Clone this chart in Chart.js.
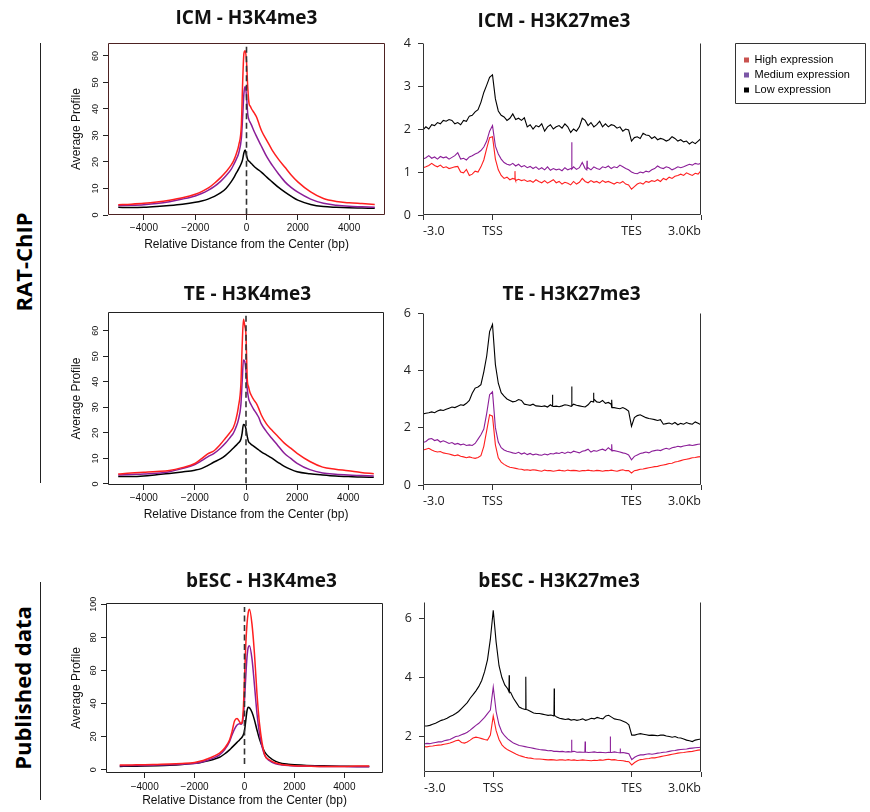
<!DOCTYPE html>
<html>
<head>
<meta charset="utf-8">
<script src="https://cdn.jsdelivr.net/npm/chart.js@4.4.1/dist/chart.umd.min.js"></script>
<style>
html, body { margin: 0; padding: 0; background: #fff; }
body { width: 870px; height: 812px; position: relative; overflow: hidden; }
canvas { position: absolute; }
.side { position: absolute; font: bold 22px 'Open Sans', sans-serif; color: #000; white-space: nowrap;
        transform: translate(-50%, -50%) rotate(-90deg); }
.rule { position: absolute; width: 0; border-left: 1.3px solid #222; }
</style>
</head>
<body>
<div class="side" style="left:23px;top:262px">RAT-ChIP</div>
<div class="rule" style="left:40px;top:43px;height:440px"></div>
<div class="side" style="left:22px;top:688px">Published data</div>
<div class="rule" style="left:40px;top:582px;height:218px"></div>

<canvas id="icmK4"></canvas>
<canvas id="teK4"></canvas>
<canvas id="besK4"></canvas>
<canvas id="icmK27"></canvas>
<canvas id="teK27"></canvas>
<canvas id="besK27"></canvas>
<canvas id="legendBox"></canvas>

<script>
const expression = ['High expression', 'Medium expression', 'Low expression'];
const lineColors = ['#ff1f1f', '#8b1e98', '#000000'];
const legendColors = ['#c9524f', '#7b56a6', '#000000'];

// ---- H3K4me3: average profile around the peak centre (bp)
const distBp = [-5000, -4500, -4000, -3500, -3000, -2500, -2000, -1750, -1500, -1250, -1000, -800, -600,
  -500, -400, -300, -200, -150, -100, -50, 0, 50, 100, 150, 200, 300, 400, 500, 600, 800, 1000,
  1250, 1500, 1750, 2000, 2500, 3000, 3500, 4000, 4500, 5000];
const k4XTicks = [-4000, -2000, 0, 2000, 4000];
const k4YTicks60 = [0, 10, 20, 30, 40, 50, 60];
const k4YTicks100 = [0, 20, 40, 60, 80, 100];

const icmK4High = [3.9, 4.1, 4.4, 4.9, 5.6, 6.5, 7.8, 8.8, 10.1, 12, 14.2, 16.3, 18.8,
  20.5, 23, 26.5, 34, 50, 61, 62, 58, 48, 42, 41, 40, 38.5, 36.8, 34, 31.5, 28, 24.5,
  21, 18, 15, 12.5, 8.7, 6.2, 5.1, 4.6, 4.3, 4.0];
const icmK4Med = [3.6, 3.7, 3.9, 4.3, 5.0, 6.0, 7.2, 8.1, 9.3, 10.8, 12.8, 14.8, 17.2,
  19, 21, 23.5, 29, 37, 46, 48.5, 45, 38, 35.8, 34.8, 33.8, 31.5, 29.5, 27.5, 25.6, 21.8, 18.8,
  15.5, 12.5, 10.3, 8.6, 6.0, 4.4, 3.7, 3.3, 3.1, 2.9];
const icmK4Low = [2.9, 2.8, 2.9, 3.2, 3.6, 4.1, 4.8, 5.3, 6.0, 7.0, 8.4, 10, 12.5,
  14, 15.8, 17.5, 19.5, 21, 23.5, 24.5, 22.5, 20.8, 20.3, 19.8, 19.3, 18.3, 17.5, 16.8, 16, 14.2, 12.5,
  10.4, 8.6, 7, 5.6, 4.0, 3.2, 2.9, 2.7, 2.6, 2.5];
const icmK4Center = [0.3, 63.5];

const teK4High = [3.9, 4.3, 4.6, 4.9, 5.3, 6.4, 8.0, 9.8, 11.8, 13, 15.5, 18, 20.5,
  22, 25, 30, 39, 54, 64.5, 62, 58, 41, 38, 36, 34.8, 33, 31.6, 29.5, 27, 23.5, 21.2,
  18.6, 16, 14, 12, 8.8, 6.6, 5.8, 5.2, 4.5, 4.0];
const teK4Med = [3.5, 3.7, 3.9, 4.2, 4.8, 6.0, 7.6, 9.0, 10.6, 12, 14, 16, 18.5,
  19.8, 22, 25, 31, 40, 48.5, 48, 44, 37, 33.5, 32, 31, 29.2, 27.7, 26, 23.5, 20.5, 18,
  15, 12, 10, 8.1, 5.6, 4.3, 3.8, 3.5, 3.3, 3.1];
const teK4Low = [2.9, 2.9, 3.1, 3.6, 4.1, 4.7, 5.4, 6.0, 7.2, 8.6, 9.8, 11.2, 13,
  14, 15, 16, 17.5, 20, 23.3, 23, 21.5, 18.5, 16.5, 16, 15.5, 14.8, 14, 13.3, 12.6, 11.4, 10.2,
  8.5, 6.9, 5.7, 4.8, 4.0, 3.5, 3.1, 2.9, 2.7, 2.6];
const teK4Center = [0.3, 66];

const besK4High = [2.8, 2.9, 3.0, 3.2, 3.4, 3.8, 4.4, 5.2, 6.5, 8, 10, 13, 18,
  23, 29.5, 31, 29, 28, 28.5, 36, 55, 75, 88, 95, 97, 88, 70, 46, 28, 9.5, 6,
  4, 3.2, 2.7, 2.4, 2.2, 2.0, 2.0, 2.0, 2.3, 2.2];
const besK4Med = [2.4, 2.5, 2.6, 2.8, 3.0, 3.3, 3.8, 4.5, 5.6, 7, 9, 12, 17,
  21, 24.5, 27, 27.8, 27.5, 28, 32, 42, 56, 68, 74, 75, 67, 51, 34, 22, 9, 5.5,
  3.6, 2.9, 2.5, 2.3, 2.1, 2.0, 1.9, 1.9, 1.8, 1.8];
const besK4Low = [2.0, 2.1, 2.2, 2.4, 2.7, 3.2, 3.9, 4.4, 5.2, 6.2, 7.5, 9.5, 12,
  13.5, 15, 16.5, 18, 18.8, 19.6, 21, 23.5, 29.5, 35.5, 37.8, 37.4, 34.7, 30, 24, 18.5, 11, 7.5,
  5, 3.8, 3.3, 3.0, 2.6, 2.4, 2.2, 2.1, 2.0, 2.0];
const besK4Center = [3.4, 98.4];

// ---- H3K27me3: scale-regions profile, bins of 0.125 on a 0..12 axis (-3.0 / TSS / TES / 3.0Kb)
const regionTicks = [0, 3, 9, 12];
const regionLabels = ['-3.0', 'TSS', 'TES', '3.0Kb'];
const binWidth = 0.125;

const icmK27High = [1.1, 1.12, 1.15, 1.2, 1.15, 1.12, 1.16, 1.1,
  1.12, 1.08, 1.1, 1.12, 1.13, 1.0, 0.98, 1.06,
  0.92, 0.95, 1.02, 1.0, 1.12, 1.28, 1.55, 1.8,
  1.82, 1.3, 1.05, 0.92, 0.85, 0.88, 0.82, 0.85,
  0.8, 0.83, 0.8, 0.82, 0.78, 0.8, 0.76, 0.82,
  0.78, 0.75, 0.8, 0.74, 0.78, 0.82, 0.75, 0.78,
  0.72, 0.76, 0.74, 0.7, 0.78, 0.72, 0.76, 0.85,
  0.78, 0.75, 0.8, 0.76, 0.78, 0.74, 0.8, 0.76,
  0.78, 0.75, 0.72, 0.76, 0.74, 0.78, 0.72, 0.7,
  0.6, 0.66, 0.72, 0.75, 0.72, 0.78, 0.76, 0.8,
  0.78, 0.82, 0.78, 0.85, 0.82, 0.88, 0.85, 0.9,
  0.92, 0.95, 0.92, 0.98, 0.95, 0.92, 0.97, 0.95,
  1.03];
const icmK27Med = [1.3, 1.33, 1.38, 1.32, 1.35, 1.3, 1.36, 1.33,
  1.35, 1.3, 1.34, 1.38, 1.45, 1.3, 1.32, 1.28,
  1.35, 1.38, 1.42, 1.45, 1.5, 1.58, 1.72, 1.95,
  2.08, 1.6, 1.42, 1.3, 1.22, 1.18, 1.16, 1.2,
  1.14, 1.18, 1.12, 1.15, 1.1, 1.13, 1.08, 1.12,
  1.06, 1.1, 1.05, 1.12, 1.04, 1.08, 1.05, 1.07,
  1.03, 1.1, 1.05, 1.08, 1.12, 1.06, 1.1, 1.22,
  1.08, 1.1, 1.05, 1.12, 1.08, 1.06, 1.12, 1.1,
  1.14, 1.08, 1.12, 1.1, 1.16, 1.12, 1.08, 1.05,
  1.0, 0.97, 0.96, 1.0, 0.98, 1.02, 1.0, 1.05,
  1.08, 1.14, 1.1, 1.08, 1.12, 1.1, 1.05, 1.08,
  1.12, 1.1, 1.12, 1.15, 1.18, 1.16, 1.2, 1.18,
  1.2];
const icmK27Low = [1.98, 2.05, 2.0, 2.1, 2.08, 2.15, 2.12, 2.2,
  2.18, 2.22, 2.2, 2.12, 2.15, 2.1, 2.2, 2.18,
  2.3, 2.32, 2.4, 2.45, 2.62, 2.85, 3.02, 3.2,
  3.26, 2.7, 2.42, 2.32, 2.28, 2.2, 2.25, 2.35,
  2.22, 2.25, 2.2, 2.26, 2.05, 2.1, 2.0, 2.08,
  2.05, 2.12, 1.95, 2.05, 2.1, 2.0, 2.05, 2.08,
  2.02, 2.12, 2.05, 1.92, 2.0, 1.95, 2.05, 2.25,
  2.2, 2.08, 2.15, 2.05, 2.1, 2.18, 2.05, 2.12,
  2.05, 2.1, 2.08, 2.02, 2.05, 1.95, 2.0, 1.98,
  1.72, 1.8, 1.82, 1.78, 1.9, 1.86, 1.85, 1.78,
  1.82, 1.75, 1.78, 1.76, 1.72, 1.75, 1.82, 1.78,
  1.72, 1.75, 1.7, 1.72, 1.65, 1.7, 1.66, 1.72,
  1.78];
const icmK27HighSpikes = [[3.96, 0.83], [3.97, 1.02], [3.98, 0.83]];
const icmK27MedSpikes = [[6.41, 1.07], [6.42, 1.69], [6.43, 1.07], [7.07, 1.05], [7.08, 1.26], [7.09, 1.08]];
const icmK27LowSpikes = [];

const teK27High = [1.22, 1.25, 1.28, 1.22, 1.18, 1.15, 1.17, 1.12,
  1.1, 1.08, 1.05, 1.02, 1.05, 1.0, 0.98, 0.95,
  0.98, 0.95, 0.93, 0.96, 1.02, 1.35, 1.9, 2.45,
  2.4, 1.4, 0.95, 0.8, 0.72, 0.66, 0.62, 0.6,
  0.58, 0.56, 0.55, 0.52, 0.53, 0.51, 0.53, 0.52,
  0.5, 0.48, 0.52, 0.5, 0.5, 0.48, 0.5, 0.52,
  0.5, 0.49, 0.52, 0.5, 0.51, 0.5, 0.48, 0.5,
  0.5, 0.52, 0.5, 0.49, 0.51, 0.5, 0.48, 0.5,
  0.5, 0.52, 0.5, 0.48, 0.51, 0.53, 0.5, 0.5,
  0.42, 0.5, 0.52, 0.55, 0.56, 0.58, 0.6, 0.62,
  0.64, 0.65, 0.68, 0.7, 0.72, 0.75, 0.76, 0.8,
  0.82, 0.85, 0.88, 0.9, 0.92, 0.95, 0.96, 0.98,
  0.99];
const teK27Med = [1.48, 1.52, 1.6, 1.62, 1.55, 1.58, 1.5, 1.54,
  1.5, 1.45, 1.48, 1.42, 1.45, 1.4, 1.43, 1.38,
  1.4, 1.38, 1.45, 1.6, 1.75, 1.95, 2.5, 3.15,
  3.25, 2.0, 1.5, 1.3, 1.22, 1.18, 1.15, 1.12,
  1.1, 1.14, 1.08, 1.12, 1.06, 1.1, 1.05, 1.08,
  1.05, 1.04, 1.08, 1.05, 1.1, 1.08, 1.12, 1.1,
  1.14, 1.1, 1.15, 1.12, 1.18, 1.15, 1.12, 1.18,
  1.2, 1.25, 1.15, 1.2, 1.18, 1.22, 1.25, 1.2,
  1.3, 1.22, 1.2, 1.18, 1.15, 1.12, 1.1, 1.05,
  0.88, 1.0, 1.05, 1.1, 1.12, 1.15, 1.12, 1.18,
  1.2, 1.22, 1.2, 1.25, 1.28, 1.25, 1.3, 1.32,
  1.35, 1.33, 1.36, 1.38, 1.4, 1.38, 1.4, 1.42,
  1.43];
const teK27Low = [2.48, 2.5, 2.52, 2.55, 2.52, 2.58, 2.62, 2.6,
  2.64, 2.68, 2.72, 2.7, 2.75, 2.8, 2.78, 2.85,
  2.95, 3.2, 3.38, 3.42, 3.5, 3.95, 4.5, 5.35,
  5.6, 4.2, 3.55, 3.22, 3.1, 3.0, 2.95, 2.9,
  2.92, 2.98, 2.95, 2.82, 2.8, 2.78, 2.82, 2.76,
  2.75, 2.74, 2.76, 2.72, 2.8, 2.74, 2.75, 2.73,
  2.76, 2.8, 2.78, 2.75, 2.82, 2.78, 2.76, 2.74,
  2.72, 2.8, 2.92, 3.0, 2.9, 2.88, 2.95, 2.85,
  2.88, 2.82, 2.7, 2.68, 2.66, 2.7, 2.65, 2.58,
  2.05, 2.35, 2.42, 2.45, 2.4, 2.35, 2.32, 2.3,
  2.28, 2.25, 2.28, 2.12, 2.14, 2.16, 2.12, 2.18,
  2.1, 2.15, 2.12, 2.18, 2.14, 2.12, 2.2, 2.15,
  2.1];
const teK27HighSpikes = [];
const teK27MedSpikes = [[8.14, 1.2], [8.15, 1.42], [8.16, 1.2]];
const teK27LowSpikes = [[5.58, 2.75], [5.59, 3.15], [5.6, 2.75], [6.41, 2.76], [6.42, 3.44], [6.43, 2.76],
  [7.35, 2.9], [7.36, 3.22], [7.37, 2.92], [8.14, 2.7], [8.15, 2.97], [8.16, 2.7]];

const besK27High = [1.66, 1.65, 1.67, 1.68, 1.7, 1.71, 1.72, 1.74,
  1.76, 1.78, 1.82, 1.86, 1.88, 1.8, 1.78, 1.82,
  1.88, 1.95, 1.98, 1.96, 1.93, 1.9, 1.88, 2.05,
  2.7, 2.2, 1.9, 1.72, 1.62, 1.55, 1.5, 1.45,
  1.4, 1.36, 1.33, 1.3, 1.28, 1.27, 1.25, 1.24,
  1.24, 1.23, 1.22, 1.21, 1.22, 1.21, 1.2, 1.21,
  1.21, 1.2, 1.22, 1.2, 1.21, 1.19, 1.2, 1.21,
  1.2, 1.19, 1.18, 1.2, 1.19, 1.21, 1.2, 1.22,
  1.23, 1.21, 1.22, 1.2, 1.19, 1.18, 1.16, 1.15,
  1.04, 1.12, 1.18, 1.22, 1.23, 1.25, 1.26, 1.28,
  1.28, 1.3, 1.32, 1.34, 1.36, 1.38, 1.4, 1.42,
  1.44, 1.45, 1.46, 1.48, 1.49, 1.5, 1.52, 1.54,
  1.55];
const besK27Med = [1.75, 1.77, 1.76, 1.78, 1.8, 1.82, 1.82, 1.86,
  1.88, 1.9, 1.95, 2.0, 2.02, 2.06, 2.1, 2.15,
  2.22, 2.3, 2.38, 2.45, 2.55, 2.65, 2.78, 2.9,
  3.68, 2.85, 2.4, 2.15, 2.02, 1.92, 1.85, 1.78,
  1.74, 1.7, 1.68, 1.66, 1.64, 1.62, 1.6, 1.58,
  1.56, 1.55, 1.54, 1.52, 1.53, 1.5, 1.5, 1.49,
  1.5, 1.48, 1.49, 1.48, 1.5, 1.47, 1.48, 1.47,
  1.48, 1.46, 1.47, 1.48, 1.46, 1.47, 1.46, 1.45,
  1.47, 1.46, 1.48, 1.46, 1.45, 1.46, 1.44, 1.42,
  1.22, 1.3, 1.35, 1.38, 1.38, 1.4, 1.42, 1.4,
  1.42, 1.44, 1.45, 1.47, 1.48, 1.5, 1.52, 1.53,
  1.55, 1.56, 1.57, 1.58, 1.6, 1.61, 1.62, 1.63,
  1.64];
const besK27Low = [2.36, 2.36, 2.38, 2.42, 2.45, 2.5, 2.55, 2.58,
  2.62, 2.68, 2.72, 2.78, 2.85, 2.95, 3.05, 3.15,
  3.3, 3.42, 3.55, 3.7, 3.9, 4.2, 4.6, 5.3,
  6.28, 5.2, 4.4, 4.0, 3.75, 3.62, 3.5, 3.3,
  3.15, 3.0, 2.95, 2.92, 2.9, 2.85, 2.8, 2.78,
  2.78, 2.76, 2.74, 2.72, 2.73, 2.7, 2.66, 2.62,
  2.6, 2.58, 2.6, 2.56, 2.58, 2.55, 2.57, 2.6,
  2.55, 2.58, 2.62, 2.6, 2.65, 2.62, 2.6, 2.7,
  2.72, 2.66, 2.6, 2.58, 2.56, 2.52, 2.48, 2.4,
  2.05, 2.05, 2.08, 2.1, 2.08, 2.06, 2.04, 2.05,
  2.04, 2.03, 2.05, 2.05, 2.02, 2.0, 1.98, 2.0,
  1.96, 1.95, 1.92, 1.88, 1.86, 1.83, 1.88, 1.9,
  1.92];
const besK27HighSpikes = [];
const besK27MedSpikes = [[6.39, 1.5], [6.4, 1.89], [6.41, 1.49], [6.97, 1.48], [6.98, 1.83], [6.99, 1.47],
  [8.06, 1.46], [8.07, 2.0], [8.08, 1.46], [8.49, 1.45], [8.5, 1.6], [8.51, 1.45]];
const besK27LowSpikes = [[3.68, 3.52], [3.69, 4.08], [3.7, 3.5], [4.4, 2.93], [4.41, 4.03], [4.42, 2.92],
  [5.63, 2.72], [5.64, 3.63], [5.65, 2.72]];

const icmK27YTicks = [0, 1, 2, 3, 4];
const teK27YTicks = [0, 2, 4, 6];
const besK27YTicks = [2, 4, 6];

const FONT_R = "'Liberation Sans', Arial, Helvetica, sans-serif";
const FONT_M = "'Open Sans', 'Noto Sans', sans-serif";

// frame lines around the plot region (R box / matplotlib spines)
Chart.register({
    id: 'frame',
    afterDatasetsDraw(chart, args, opts) {
        if (!opts || !opts.sides) return;
        const a = opts.rect
            ? { left: opts.rect[0], top: opts.rect[1], right: opts.rect[0] + opts.rect[2], bottom: opts.rect[1] + opts.rect[3] }
            : chart.chartArea;
        const l = Math.round(a.left) + 0.5, r = Math.round(a.right) - 0.5;
        const t = Math.round(a.top) + 0.5, b = Math.round(a.bottom) - 0.5;
        const ctx = chart.ctx;
        ctx.save();
        ctx.strokeStyle = opts.color || '#000';
        ctx.lineWidth = opts.width || 1;
        ctx.beginPath();
        if (opts.sides.includes('l')) { ctx.moveTo(l, t); ctx.lineTo(l, b); }
        if (opts.sides.includes('r')) { ctx.moveTo(r, t); ctx.lineTo(r, b); }
        if (opts.sides.includes('t')) { ctx.moveTo(l, t); ctx.lineTo(r, t); }
        if (opts.sides.includes('b')) { ctx.moveTo(l, b); ctx.lineTo(r, b); }
        ctx.stroke();
        ctx.restore();
    }
});

function toPoints(xs, ys, spikes) {
    const pts = ys.map((y, i) => ({ x: xs[i], y: y }));
    (spikes || []).forEach(s => pts.push({ x: s[0], y: s[1] }));
    return pts.sort((a, b) => a.x - b.x);
}

function place(id, left, top, w, h) {
    const cv = document.getElementById(id);
    cv.width = w;
    cv.height = h;
    cv.style.left = left + 'px';
    cv.style.top = top + 'px';
    return cv;
}

const panels = [
    { id: 'icmK4', kind: 'k4', title: 'ICM - H3K4me3', area: [108, 385, 43, 215], titleX: 246.5, titleY: 19,
      xRange: [-5400, 5400], yRange: [0, 64.9], yTicks: k4YTicks60, frame: '#4d2222',
      series: [icmK4High, icmK4Med, icmK4Low], center: icmK4Center, yPad: 2, xPad: 2, xTitleY: 245 },
    { id: 'teK4', kind: 'k4', title: 'TE - H3K4me3', area: [108, 384, 312, 485], titleX: 247.5, titleY: 295,
      xRange: [-5400, 5400], yRange: [-0.4, 67.3], yTicks: k4YTicks60, frame: '#222',
      series: [teK4High, teK4Med, teK4Low], center: teK4Center, yPad: 2, xPad: 2, xTitleY: 515 },
    { id: 'besK4', kind: 'k4', title: 'bESC - H3K4me3', area: [106, 383, 603, 773], titleX: 261.7, titleY: 582,
      xRange: [-5550, 5550], yRange: [-2, 100.8], yTicks: k4YTicks100, frame: '#222',
      series: [besK4High, besK4Med, besK4Low], center: besK4Center, yPad: 0, xPad: 3, xTitleY: 801 },
    { id: 'icmK27', kind: 'k27', title: 'ICM - H3K27me3', area: [423, 701, 43, 215], titleX: 554, titleY: 21.7,
      yRange: [0, 4], yTicks: icmK27YTicks, frame: '#333',
      series: [icmK27High, icmK27Med, icmK27Low], spikes: [icmK27HighSpikes, icmK27MedSpikes, icmK27LowSpikes] },
    { id: 'teK27', kind: 'k27', title: 'TE - H3K27me3', area: [423, 701, 313, 485], titleX: 571.7, titleY: 295,
      yRange: [0, 6], yTicks: teK27YTicks, frame: '#333',
      series: [teK27High, teK27Med, teK27Low], spikes: [teK27HighSpikes, teK27MedSpikes, teK27LowSpikes] },
    { id: 'besK27', kind: 'k27', title: 'bESC - H3K27me3', area: [424, 701, 602, 772], titleX: 559, titleY: 582,
      yRange: [0.8, 6.56], yTicks: besK27YTicks, frame: '#333',
      series: [besK27High, besK27Med, besK27Low], spikes: [besK27HighSpikes, besK27MedSpikes, besK27LowSpikes] }
];

function buildPanel(p) {
    const k4 = p.kind === 'k4';
    const [L, R, T, B] = p.area;
    const yW = k4 ? 48 : 33;
    const xH = k4 ? 38 : 26;
    const top = Math.round(p.titleY - 19);
    const W = Math.round(yW + (R - L) + yW + 2 * (p.titleX - (L + R) / 2));
    const rightW = W - yW - (R - L);
    const H = B - top + xH;
    const cv = place(p.id, L - yW, top, W, H);

    let datasets;
    if (k4) {
        datasets = [{
            data: [{ x: 0, y: p.center[0] }, { x: 0, y: p.center[1] }],
            borderColor: '#333', borderWidth: 1.6, borderDash: [6, 3.5], pointRadius: 0
        }].concat(p.series.map((s, i) => ({
            label: expression[i],
            data: toPoints(distBp, s),
            borderColor: lineColors[i], borderWidth: 1.5, pointRadius: 0,
            cubicInterpolationMode: 'monotone'
        })));
    } else {
        const bins = p.series[0].map((_, i) => i * binWidth);
        datasets = p.series.map((s, i) => ({
            label: expression[i],
            data: toPoints(bins, s, p.spikes[i]),
            borderColor: lineColors[i], borderWidth: 1.1, pointRadius: 0, tension: 0
        }));
    }

    const tickGrid = { display: true, drawOnChartArea: false, drawTicks: true, tickLength: 5,
                       color: k4 ? '#222' : '#333', lineWidth: 1 };

    const xScale = {
        type: 'linear',
        min: k4 ? p.xRange[0] : 0,
        max: k4 ? p.xRange[1] : 12,
        afterFit: s => { s.height = xH; },
        afterBuildTicks: s => { s.ticks = (k4 ? k4XTicks : regionTicks).map(v => ({ value: v })); },
        grid: tickGrid,
        border: { display: false },
        ticks: k4 ? {
            autoSkip: false, maxRotation: 0, padding: p.xPad, color: '#111',
            font: { family: FONT_R, size: 10 },
            callback: v => (v < 0 ? '\u2212' + Math.abs(v) : String(v))
        } : {
            autoSkip: false, maxRotation: 0, padding: 3.5, color: '#222', align: 'inner',
            font: { family: FONT_M, size: 12.5 },
            callback: v => regionLabels[regionTicks.indexOf(v)]
        },
        title: k4 ? {
            display: true, text: 'Relative Distance from the Center (bp)', color: '#111',
            font: { family: FONT_R, size: 12, lineHeight: 1.2 },
            padding: { top: 0, bottom: xH - (p.xTitleY - B) - 7.2 }
        } : { display: false }
    };

    const yScale = {
        type: 'linear',
        min: p.yRange[0],
        max: p.yRange[1],
        afterFit: s => { s.width = yW; },
        afterBuildTicks: s => { s.ticks = p.yTicks.map(v => ({ value: v })); },
        grid: tickGrid,
        border: { display: false },
        ticks: k4 ? {
            autoSkip: false, minRotation: 90, maxRotation: 90, crossAlign: 'center',
            padding: p.yPad, color: '#111', font: { family: FONT_R, size: 9 }
        } : {
            autoSkip: false, padding: 7, color: '#222', font: { family: FONT_M, size: 12.5 }
        },
        title: k4 ? {
            display: true, text: 'Average Profile', color: '#111',
            font: { family: FONT_R, size: 12, lineHeight: 1.2 },
            padding: { top: 77 - (L - yW) - 7.2, bottom: 0 }
        } : { display: false }
    };

    return new Chart(cv, {
        type: 'line',
        data: { datasets: datasets },
        options: {
            responsive: false,
            animation: false,
            events: [],
            layout: { padding: 0 },
            plugins: {
                legend: { display: false },
                tooltip: { enabled: false },
                title: {
                    display: true, text: p.title, color: '#111',
                    font: { family: FONT_M, size: 19, weight: 'bold', lineHeight: 1.2 },
                    padding: { top: p.titleY - top - 11.4, bottom: T - p.titleY - 11.4 }
                },
                frame: { sides: k4 ? 'ltrb' : 'lrb', color: p.frame }
            },
            scales: {
                x: xScale,
                y: yScale,
                yr: {
                    type: 'linear', position: 'right', display: true,
                    afterFit: s => { s.width = rightW; },
                    ticks: { display: false }, grid: { display: false }, border: { display: false }
                }
            }
        }
    });
}

panels.forEach(buildPanel);

// legend (canvas taller than the box: a top legend may use at most half the canvas height)
new Chart(place('legendBox', 735, 43, 131, 140), {
    type: 'line',
    data: { datasets: expression.map((name, i) => ({ label: name, data: [], borderColor: legendColors[i] })) },
    options: {
        responsive: false,
        animation: false,
        events: [],
        layout: { padding: { left: 5, top: 7.5 } },
        scales: { x: { display: false }, y: { display: false } },
        plugins: {
            tooltip: { enabled: false },
            legend: {
                display: true, position: 'top', align: 'start',
                labels: {
                    boxWidth: 5, boxHeight: 5, padding: 4, color: '#000',
                    font: { family: FONT_R, size: 11 },
                    generateLabels: chart => chart.data.datasets.map((d, i) => ({
                        text: d.label, fillStyle: legendColors[i], strokeStyle: legendColors[i],
                        lineWidth: 0, hidden: false, datasetIndex: i, fontColor: '#000'
                    }))
                }
            },
            frame: { sides: 'ltrb', rect: [0, 0, 131, 61], color: '#333' }
        }
    }
});
</script>
</body>
</html>
